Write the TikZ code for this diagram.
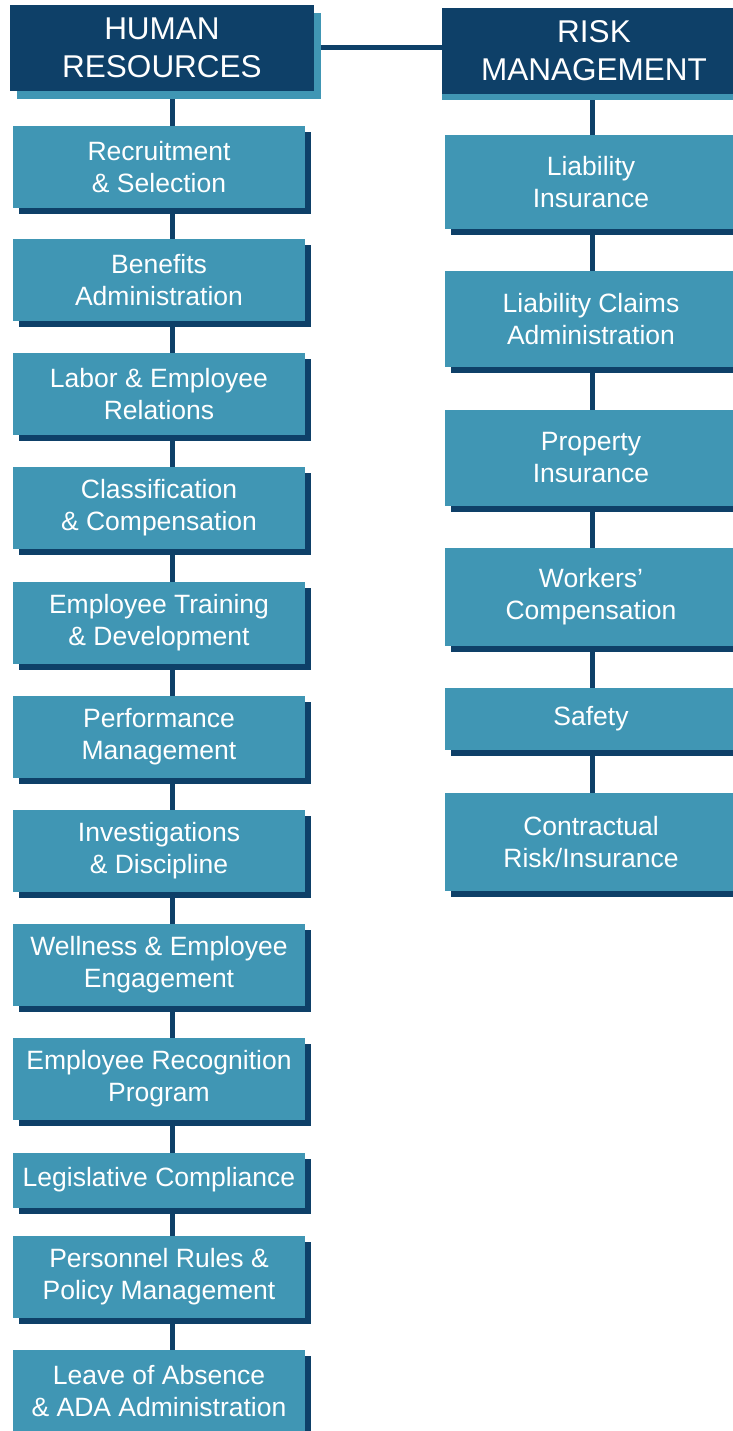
\documentclass[tikz,border=0pt]{standalone}
\usepackage{fontspec}
\setmainfont{Liberation Sans}
\usetikzlibrary{shadows,backgrounds}
\definecolor{navy}{HTML}{0E4068}
\definecolor{boxblue}{HTML}{4096B4}
\begin{document}
\begin{tikzpicture}[x=1pt,y=-1pt,
   headbox/.style={align=center,fill=navy,text=white,inner sep=0,outer sep=0,minimum width=304pt,minimum height=86pt,font=\fontsize{31.5}{38}\selectfont},
   hrbox/.style={align=center,fill=boxblue,text=white,inner sep=0,outer sep=0,minimum width=292pt,minimum height=82pt,font=\fontsize{26.5}{32}\selectfont,drop shadow={shadow xshift=6pt,shadow yshift=-6pt,fill=navy,opacity=1}},
   rmbox/.style={hrbox,minimum height=96pt,drop shadow={shadow xshift=6pt,shadow yshift=-5pt,fill=navy,opacity=1}},
   link/.style={draw=navy,line width=5pt}
  ]
  \useasboundingbox (0,0) rectangle (732,1431);
  % heads
  \node[headbox,drop shadow={shadow xshift=7pt,shadow yshift=-8pt,fill=boxblue,opacity=1}] (hr) at (162,48) {HUMAN\\RESOURCES};
  \node[headbox,drop shadow={shadow xshift=0pt,shadow yshift=-6pt,fill=boxblue,opacity=1}] (rm) at (594,51) {RISK\\MANAGEMENT};
  % human resources
  \node[hrbox] (hr1) at (159,167) {Recruitment\\\& Selection};
  \node[hrbox] (hr2) at (159,280) {Benefits\\Administration};
  \node[hrbox] (hr3) at (159,394) {Labor \& Employee\\Relations};
  \node[hrbox] (hr4) at (159,508) {Classification\\\& Compensation};
  \node[hrbox] (hr5) at (159,623) {Employee Training\\\& Development};
  \node[hrbox] (hr6) at (159,737) {Performance\\Management};
  \node[hrbox] (hr7) at (159,851) {Investigations\\\& Discipline};
  \node[hrbox] (hr8) at (159,965) {Wellness \& Employee\\Engagement};
  \node[hrbox] (hr9) at (159,1079) {Employee Recognition\\Program};
  \node[hrbox,minimum height=55pt] (hr10) at (159,1180) {Legislative Compliance};
  \node[hrbox] (hr11) at (159,1277) {Personnel Rules \&\\Policy Management};
  \node[hrbox] (hr12) at (159,1391) {Leave of Absence\\\& ADA Administration};
  % risk management
  \node[rmbox,minimum height=94pt] (rm1) at (591,182) {Liability\\Insurance};
  \node[rmbox] (rm2) at (591,319) {Liability Claims\\Administration};
  \node[rmbox] (rm3) at (591,458) {Property\\Insurance};
  \node[rmbox,minimum height=98pt] (rm4) at (591,597) {Workers’\\Compensation};
  \node[rmbox,minimum height=62pt] (rm5) at (591,719) {Safety};
  \node[rmbox,minimum height=98pt] (rm6) at (591,842) {Contractual\\Risk/Insurance};
  % links
  \begin{scope}[on background layer]
    \draw[link] (hr.east) -- (hr.east -| rm.west);
    \draw[link] ([xshift=10pt]hr.south) -- ([xshift=13pt]hr12.north);
    \draw[link] ([xshift=-2pt]rm.south) -- ([xshift=1pt]rm6.north);
  \end{scope}
\end{tikzpicture}
\end{document}
